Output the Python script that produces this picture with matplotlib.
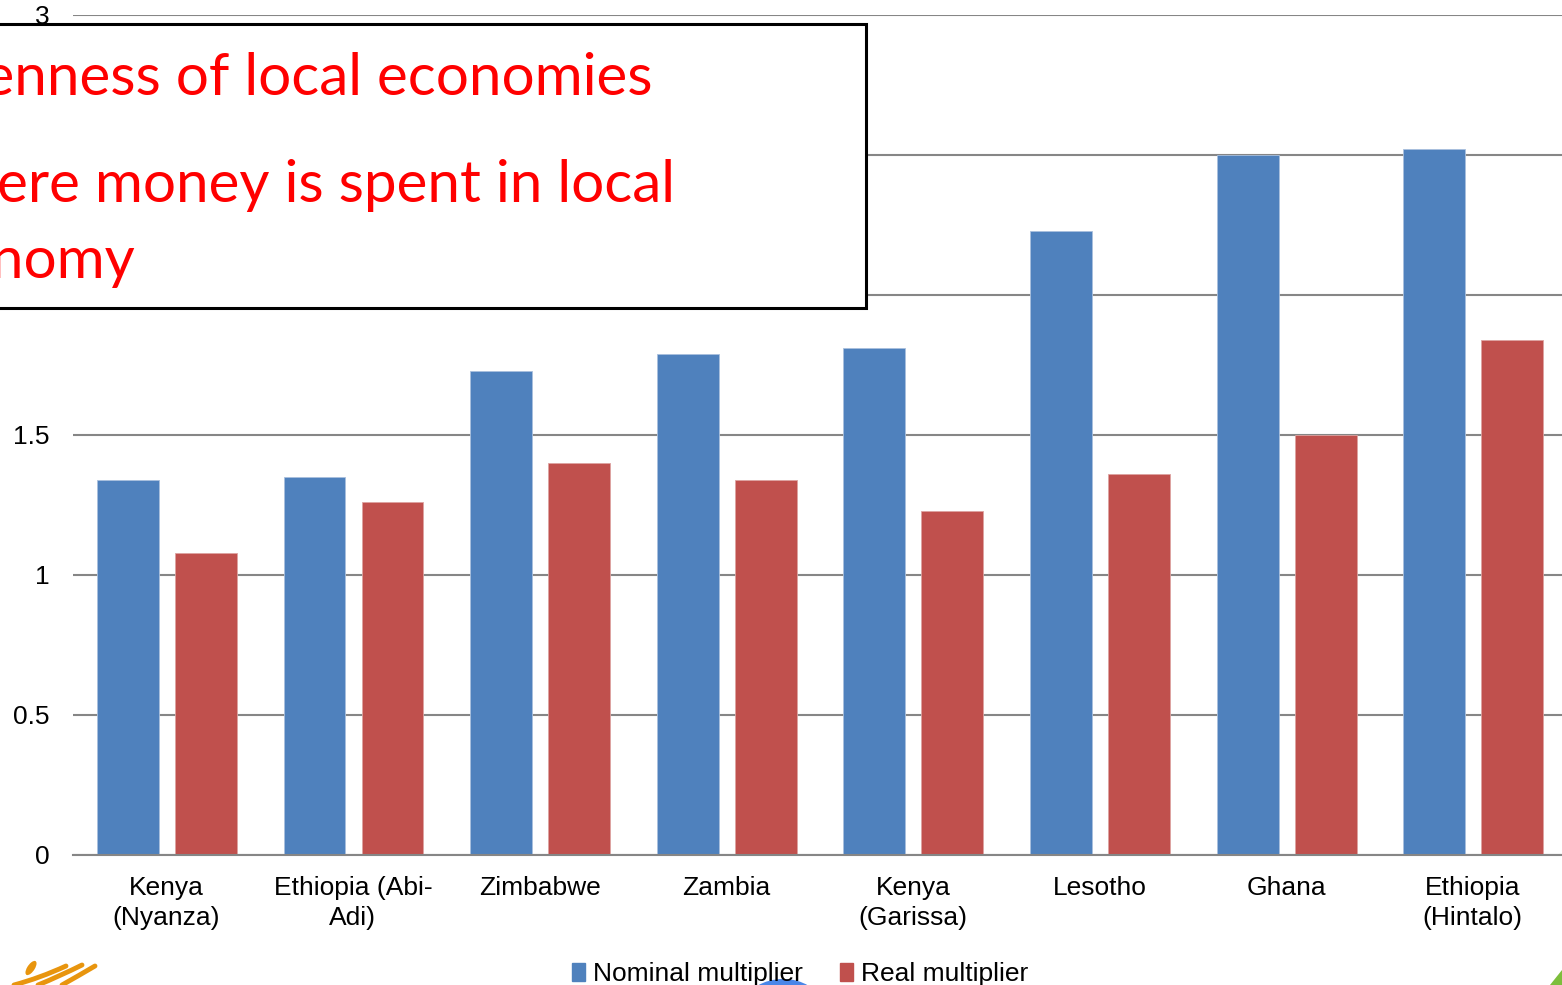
import matplotlib.pyplot as plt
import matplotlib.patches as patches
from matplotlib.path import Path
import numpy as np

# Local economy multipliers by site
categories = ['Kenya\n(Nyanza)', 'Ethiopia (Abi-\nAdi)', 'Zimbabwe', 'Zambia',
              'Kenya\n(Garissa)', 'Lesotho', 'Ghana', 'Ethiopia\n(Hintalo)']
nominal = [1.34, 1.35, 1.73, 1.79, 1.81, 2.23, 2.50, 2.52]
real = [1.08, 1.26, 1.40, 1.34, 1.23, 1.36, 1.50, 1.84]
yticks = [0, 0.5, 1, 1.5, 2, 2.5, 3]
ytick_labels = ['0', '0.5', '1', '1.5', '2', '2.5', '3']
series_names = ['Nominal multiplier', 'Real multiplier']

BLUE = '#4F81BD'
RED = '#C0504D'
GRID = '#868686'

W, H = 1562, 985


def px(x, y):
    # pixel position (from top-left) to figure fraction
    return x / W, (H - y) / H


def main():
    fig = plt.figure(figsize=(W / 100, H / 100), dpi=100)
    fig.patch.set_facecolor('white')

    ax = fig.add_axes([73 / W, (H - 855) / H, (1566 - 73) / W, 840 / H])
    ax.set_facecolor('white')

    x = np.arange(len(categories))
    bw = 0.332
    ax.bar(x - 0.206, nominal, bw, color=BLUE, edgecolor='#A9C0DE', linewidth=0.6, zorder=3)
    ax.bar(x + 0.212, real, bw, color=RED, edgecolor='#DDA3A1', linewidth=0.6, zorder=3)

    ax.set_xlim(-0.5, len(categories) - 0.5)
    ax.set_ylim(0, 3)
    ax.set_yticks(yticks)
    ax.set_yticklabels(ytick_labels)
    ax.yaxis.grid(True, color=GRID, linewidth=1.5, zorder=0)
    ax.set_axisbelow(True)
    for s in ['left', 'right', 'top']:
        ax.spines[s].set_visible(False)
    ax.spines['bottom'].set_color(GRID)
    ax.spines['bottom'].set_linewidth(1.5)
    ax.spines['bottom'].set_zorder(4)

    ax.set_xticks(x)
    ax.set_xticklabels(categories)
    ax.tick_params(axis='x', length=0, pad=15)
    ax.tick_params(axis='y', length=0, pad=17)
    for lab in ax.get_xticklabels() + ax.get_yticklabels():
        lab.set_fontfamily('Liberation Sans')
        lab.set_fontsize(19)
        lab.set_color('black')
    for lab in ax.get_xticklabels():
        lab.set_linespacing(1.3)

    # legend below the plot
    handles = [patches.Patch(color=BLUE), patches.Patch(color=RED)]
    fig.legend(handles, series_names, loc='center', bbox_to_anchor=(800 / W, 11 / H),
               ncol=2, frameon=False, handlelength=0.5, handleheight=0.65,
               handletextpad=0.3, columnspacing=1.4,
               prop={'family': 'Liberation Sans', 'size': 19})

    # callout box overlapping the chart
    x0, y0 = px(-10, 308)
    box = patches.Rectangle((x0, y0), 876 / W, 284 / H, transform=fig.transFigure,
                            facecolor='white', edgecolor='black', linewidth=2.2, zorder=5)
    fig.add_artist(box)
    lines = [('Openness of local economies', 652, 95),
             ('Where money is spent in local', 675, 202),
             ('economy', 135, 278)]
    for txt, xr, yb in lines:
        fx, fy = px(xr, yb)
        fig.text(fx, fy, txt, ha='right', va='baseline', color='#FF0000',
                 fontsize=42, fontfamily='Lato', zorder=6)

    # footer decorations
    blob = patches.Ellipse(px(783, 1002), 72 / W, 46 / H, transform=fig.transFigure,
                           facecolor='#4A86E8', edgecolor='none', zorder=1)
    fig.add_artist(blob)
    head = patches.Ellipse(px(31, 968), 8 / W, 15 / H, angle=-20, transform=fig.transFigure,
                           facecolor='#E8950E', edgecolor='none', zorder=1)
    fig.add_artist(head)
    for (xa, ya, xc, yc, xb, yb) in [(14, 985, 40, 978, 66, 966),
                                     (38, 985, 60, 976, 82, 965),
                                     (62, 985, 78, 976, 95, 966)]:
        path = Path([px(xa, ya), px(xc, yc), px(xb, yb)],
                    [Path.MOVETO, Path.CURVE3, Path.CURVE3])
        fig.add_artist(patches.PathPatch(path, transform=fig.transFigure, facecolor='none',
                                         edgecolor='#E8950E', linewidth=3.5, capstyle='round'))
    corner = patches.Polygon([px(1562, 970), px(1562, 985), px(1550, 985)], closed=True,
                             transform=fig.transFigure, facecolor='#7DBE3C', edgecolor='none')
    fig.add_artist(corner)

    fig.savefig('out.png', dpi=100)


if __name__ == "__main__":
    main()
